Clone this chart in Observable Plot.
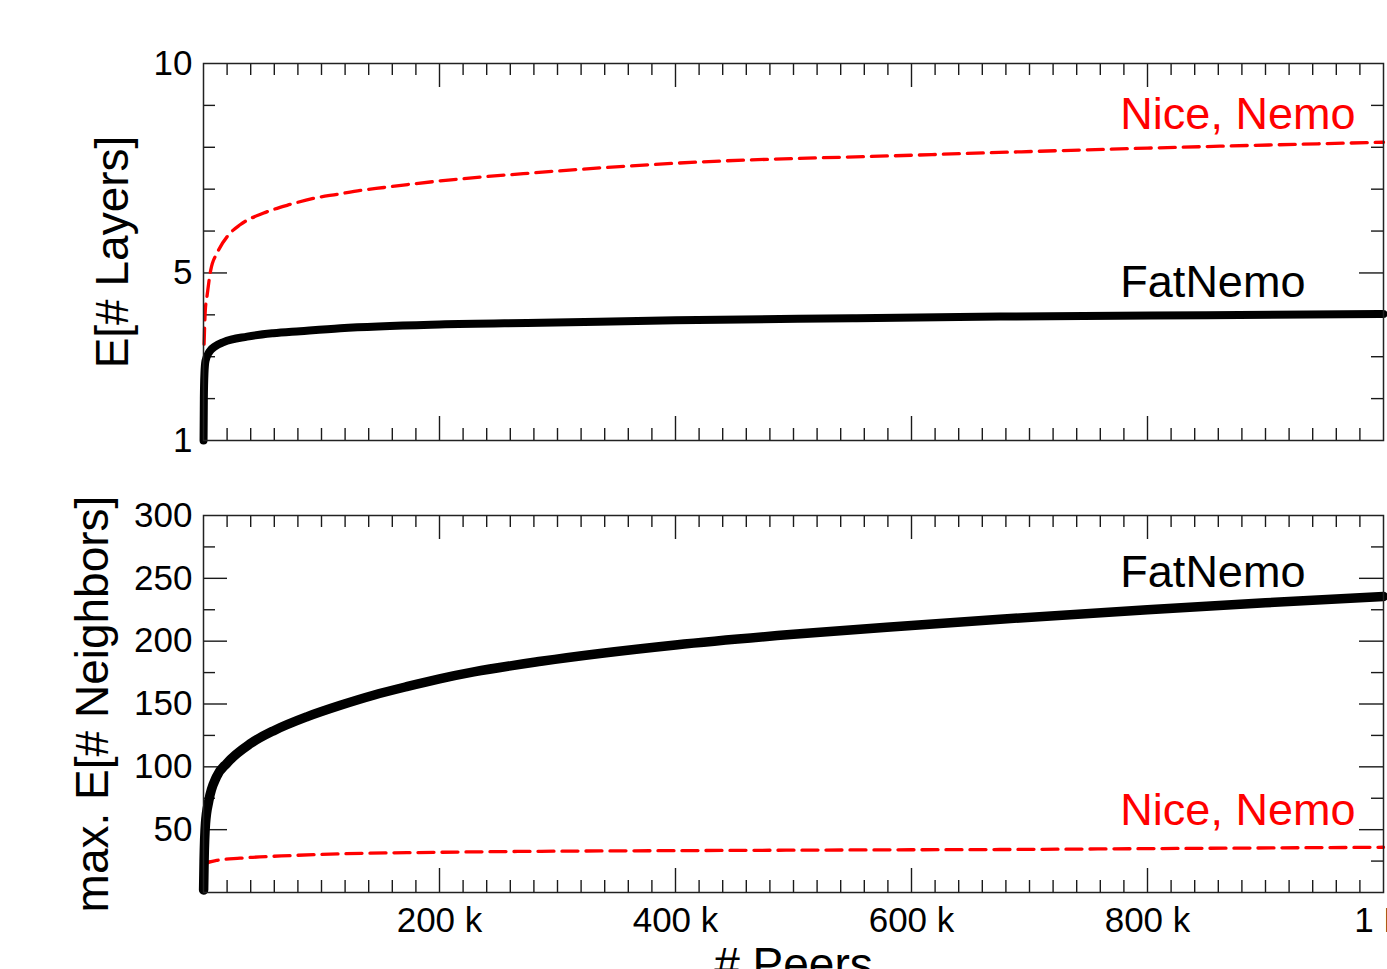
<!DOCTYPE html>
<html>
<head>
<meta charset="utf-8">
<script src="https://cdn.jsdelivr.net/npm/d3@7"></script>
<script src="https://cdn.jsdelivr.net/npm/@observablehq/plot@0.6"></script>
<style>
  html, body { margin: 0; padding: 0; background: #fff; }
  #chart { width: 1387px; height: 969px; overflow: hidden; }
  #chart svg { display: block; }
</style>
</head>
<body>
<div id="chart"></div>
<script>
// ---- data (peers in thousands) ----
const layersNiceN = [0.5, 1.5, 3, 6, 12, 21, 31, 51, 74, 93, 114, 133, 153, 173, 212, 271, 400, 600, 800, 1000];
const layersNice  = [3.3, 4.1, 4.45, 5.05, 5.5, 5.9, 6.15, 6.43, 6.64, 6.78, 6.88, 6.97, 7.04, 7.11, 7.23, 7.37, 7.62, 7.81, 7.98, 8.12];

const layersFatN = [0.05, 0.3, 0.8, 1.7, 5, 10, 17, 37, 59, 82, 116, 200, 286, 400, 550, 675, 850, 1000];
const layersFat  = [1.0, 2.0, 2.6, 2.9, 3.12, 3.25, 3.35, 3.48, 3.56, 3.61, 3.68, 3.77, 3.81, 3.87, 3.92, 3.96, 3.99, 4.02];

const neighFatN = [0.1, 0.5, 1.7, 4.5, 11, 20, 40, 60, 88, 116, 144, 173, 200, 229, 286, 400, 500, 600, 675, 800, 900, 1000];
const neighFat  = [2, 25, 55, 73, 92, 103, 118.6, 129, 140, 149, 157, 164, 170, 175.5, 184, 197, 205.5, 212.5, 217.5, 225, 230.5, 235.5];

const neighNiceN = [0.3, 3, 11, 31, 74, 116, 200, 286, 400, 600, 675, 800, 1000];
const neighNice  = [21, 23.5, 25.5, 27.3, 29.4, 30.8, 32, 32.8, 33.3, 34.0, 34.2, 34.9, 36];

// tick values and labels
const xTickValues = [200000, 400000, 600000, 800000, 1000000];
const xTickLabels = ["200 k", "400 k", "600 k", "800 k", "1 M"];
const xMajor = [200000, 400000, 600000, 800000];
const xMinor = d3.range(20000, 1000000, 20000).filter(v => v % 200000 !== 0);

const topYLabels = [1, 5, 10];
const topYMajor = [5];
const topYMinor = [2, 3, 4, 6, 7, 8, 9];

const botYLabels = [50, 100, 150, 200, 250, 300];
const botYMajor = [50, 100, 150, 200, 250];
const botYMinor = [25, 75, 125, 175, 225, 275];

const seriesNames = ["Nice, Nemo", "FatNemo"];
const seriesColors = ["#ff0000", "#000000"];
const labelX = 777000;
const labelTopY = [8.44, 4.42];
const labelBotY = [53.9, 243];

const topTitle = "E[# Layers]";
const botTitle = "max. E[# Neighbors]";
const xTitle = "# Peers";

// ---- build ----
const toRows = (ns, vs) => ns.map((n, i) => ({n: n * 1000, v: vs[i]}));
const W = 1387, ML = 203, MR = 4, FH = 377, FW = W - ML - MR;
const FONT = "'Liberation Sans', Arial, Helvetica, sans-serif";
const tickStroke = "#1a1a1a";

function frameTicks(xMaj, xMin, yMaj, yMin) {
  const minor = 12, major = 24;
  const m = [];
  for (const [vals, len] of [[xMin, minor], [xMaj, major]]) {
    m.push(Plot.tickX(vals, {x: d => d, insetTop: FH - len, stroke: tickStroke, strokeWidth: 1.4}));
    m.push(Plot.tickX(vals, {x: d => d, insetBottom: FH - len, stroke: tickStroke, strokeWidth: 1.4}));
  }
  for (const [vals, len] of [[yMin, minor], [yMaj, major]]) {
    m.push(Plot.tickY(vals, {y: d => d, insetRight: FW - len, stroke: tickStroke, strokeWidth: 1.4}));
    m.push(Plot.tickY(vals, {y: d => d, insetLeft: FW - len, stroke: tickStroke, strokeWidth: 1.4}));
  }
  return m;
}

function labelRows(ys) {
  return seriesNames.map((t, i) => ({text: t, color: seriesColors[i], x: labelX, y: ys[i]}));
}

const topPanel = Plot.plot({
  width: W, height: 470,
  marginLeft: ML, marginRight: MR, marginTop: 63, marginBottom: 30,
  style: {fontFamily: FONT, background: "white", overflow: "hidden"},
  x: {type: "linear", domain: [0, 1000000], axis: null},
  y: {type: "linear", domain: [1, 10], axis: null},
  marks: [
    ...frameTicks(xMajor, xMinor, topYMajor, topYMinor),
    Plot.line(toRows(layersNiceN, layersNice), {x: "n", y: "v", stroke: seriesColors[0], strokeWidth: 3.3, strokeDasharray: "16,8", curve: "monotone-x"}),
    Plot.line(toRows(layersFatN, layersFat), {x: "n", y: "v", stroke: seriesColors[1], strokeWidth: 8, curve: "monotone-x"}),
    Plot.frame({stroke: "#222", strokeWidth: 1.5}),
    Plot.axisY(topYLabels, {tickSize: 0, tickPadding: 11, fontSize: 35, label: null, fill: "#000"}),
    Plot.text(labelRows(labelTopY), {x: "x", y: "y", text: "text", fill: "color", textAnchor: "start", lineAnchor: "bottom", fontSize: 45}),
    Plot.text([topTitle], {text: d => d, frameAnchor: "left", textAnchor: "middle", rotate: -90, dx: 113 - ML, lineAnchor: "middle", fontSize: 46, fill: "#000"})
  ]
});

const bottomPanel = Plot.plot({
  width: W, height: 499,
  marginLeft: ML, marginRight: MR, marginTop: 45, marginBottom: 77,
  style: {fontFamily: FONT, background: "white", overflow: "hidden"},
  x: {type: "linear", domain: [0, 1000000]},
  y: {type: "linear", domain: [0, 300]},
  marks: [
    ...frameTicks(xMajor, xMinor, botYMajor, botYMinor),
    Plot.line(toRows(neighNiceN, neighNice), {x: "n", y: "v", stroke: seriesColors[0], strokeWidth: 3.3, strokeDasharray: "16,8", curve: "monotone-x"}),
    Plot.line(toRows(neighFatN, neighFat), {x: "n", y: "v", stroke: seriesColors[1], strokeWidth: 9.5, curve: "monotone-x"}),
    Plot.frame({stroke: "#222", strokeWidth: 1.5}),
    Plot.axisY(botYLabels, {tickSize: 0, tickPadding: 11, fontSize: 35, label: null, fill: "#000"}),
    Plot.axisX(xTickValues, {tickSize: 0, tickPadding: 15, fontSize: 35, label: null, fill: "#000",
      tickFormat: d => xTickLabels[xTickValues.indexOf(d)]}),
    Plot.text(labelRows(labelBotY), {x: "x", y: "y", text: "text", fill: "color", textAnchor: "start", lineAnchor: "bottom", fontSize: 45}),
    Plot.text([botTitle], {text: d => d, frameAnchor: "left", textAnchor: "middle", rotate: -90, dx: 93 - ML, lineAnchor: "middle", fontSize: 46, fill: "#000"}),
    Plot.text([xTitle], {text: d => d, frameAnchor: "bottom", dy: 55, lineAnchor: "top", fontSize: 46, fill: "#000"})
  ]
});

const root = document.getElementById("chart");
root.appendChild(topPanel);
root.appendChild(bottomPanel);
</script>
</body>
</html>
